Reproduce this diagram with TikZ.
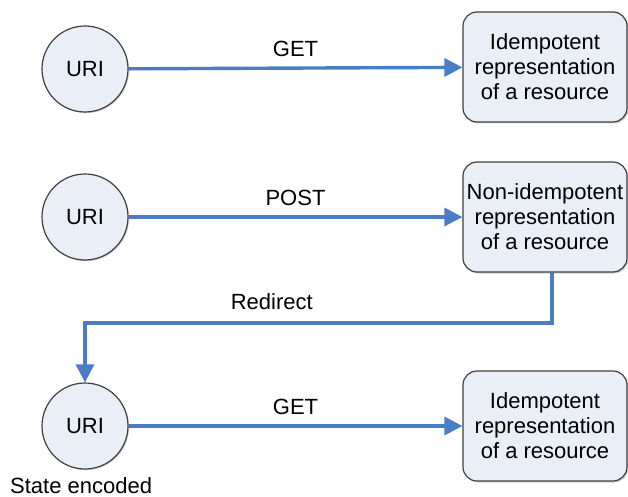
\documentclass[tikz,border=0pt]{standalone}
\usepackage{fontspec}
\setmainfont{Liberation Sans}
\usetikzlibrary{arrows.meta,shadows}
\definecolor{fillc}{HTML}{E9EEF7}
\definecolor{linec}{HTML}{4A7EC4}
\definecolor{edgec}{HTML}{404040}
\begin{document}
\begin{tikzpicture}[x=1pt,y=-1pt,
  font=\fontsize{22}{25}\selectfont,
  uri/.style={circle,draw=edgec,line width=1.2pt,fill=fillc,minimum size=86pt,inner sep=0pt,
    drop shadow={shadow xshift=1.2pt,shadow yshift=-1.2pt,opacity=.35}},
  res/.style={rectangle,rounded corners=14pt,draw=edgec,line width=1.2pt,fill=fillc,
    minimum width=164pt,minimum height=110pt,inner sep=0pt,align=center,
    drop shadow={shadow xshift=1.5pt,shadow yshift=-1.5pt,opacity=.35}},
  conn/.style={draw=linec,line width=3.4pt,-{Triangle[length=18pt,width=18pt]}},
  lbl/.style={inner sep=0pt}
]
\useasboundingbox (0,0) rectangle (628,497);
\node[uri] (u1) at (85,69) {URI};
\node[uri] (u2) at (85,217) {URI};
\node[uri] (u3) at (85,426) {URI};
\node[res] (r1) at (545,67) {Idempotent\\representation\\of a resource};
\node[res] (r2) at (545,217) {Non-idempotent\\representation\\of a resource};
\node[res] (r3) at (545,426) {Idempotent\\representation\\of a resource};
\draw[conn] (u1) -- node[lbl,above=10pt] {GET} (r1);
\draw[conn] (u2) -- node[lbl,above=10pt] {POST} (r2);
\draw[conn] (u3) -- node[lbl,above=10pt] {GET} (r3);
\coordinate (c1) at (552,323);
\coordinate (c2) at (85,323);
\draw[conn] (r2.south -| c1) -- (c1) -- node[lbl,above=12pt,pos=0.6] {Redirect} (c2) -- (u3);
\node[lbl,anchor=north west] (se) at (10,477) {State encoded};
\end{tikzpicture}
\end{document}
